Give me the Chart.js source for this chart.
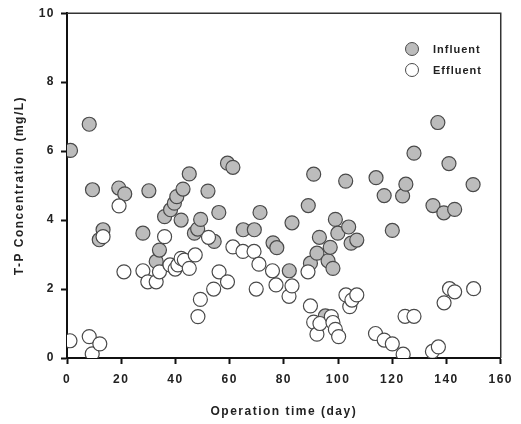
<!DOCTYPE html>
<html>
<head>
<meta charset="utf-8">
<script src="https://cdn.jsdelivr.net/npm/chart.js@4"></script>
<style>
  html, body { margin: 0; padding: 0; background: #fff; }
  #wrap { position: relative; width: 521px; height: 424px; }
  #legend { position: absolute; left: 405px; top: 38px; font: bold 11px "Liberation Sans", Arial, sans-serif; letter-spacing: 1px; color: #222; }
  #legend .row { display: flex; align-items: center; height: 21px; }
  #legend .dot { width: 14px; height: 14px; border-radius: 50%; box-sizing: border-box; border: 1.2px solid #4a4a4a; margin-right: 14px; }
</style>
</head>
<body>
<div id="wrap">
  <canvas id="chart" width="521" height="424"></canvas>
  <div id="legend"></div>
</div>
<script>
// T-P influent / effluent (day, mg/L)
const influentDays = [1.3, 8.2, 9.4, 11.9, 13.3, 19.1, 21.3, 28, 30.2, 32.9, 34.1, 36, 38.2, 39.6, 40.5, 42.1, 42.8, 45.1,
    47, 48.2, 49.3, 52, 54.3, 56, 59.2, 61.2, 65, 69.1, 71.2, 76, 77.4, 82, 83, 89, 89.8, 91, 92.2, 93.1, 95.3, 96.3,
    97.1, 98.1, 99, 99.9, 102.8, 103.9, 104.8, 106.9, 114, 117, 120, 123.8, 125, 128, 135, 136.8, 139, 140.9, 143, 149.8];
const influentValues = [6.02, 6.78, 4.88, 3.43, 3.72, 4.93, 4.76, 3.62, 4.85, 2.8, 3.13, 4.1, 4.3, 4.49, 4.68, 4.0, 4.9, 5.34,
    3.62, 3.74, 4.02, 4.84, 3.38, 4.22, 5.65, 5.53, 3.72, 3.72, 4.22, 3.34, 3.2, 2.53, 3.92, 4.42, 2.75, 5.33, 3.04, 3.5, 1.22, 2.82,
    3.21, 2.6, 4.02, 3.62, 5.13, 3.8, 3.33, 3.42, 5.23, 4.71, 3.7, 4.7, 5.04, 5.94, 4.42, 6.83, 4.21, 5.64, 4.31, 5.03];

const effluentDays = [1.1, 8.2, 9.3, 12.1, 13.3, 19.2, 21, 28, 29.8, 32.9, 34.1, 36, 38, 39.9, 40.9, 42.1, 43.3, 45.1, 47.3,
    48.3, 49.2, 52.2, 54.1, 56.1, 59.2, 61.2, 64.9, 69, 70.8, 69.8, 75.8, 77.1, 81.9, 83, 88.9, 89.8, 91, 92.2, 93.3,
    97.5, 98.1, 99, 100.2, 102.9, 104.3, 105.1, 106.9, 113.8, 117, 120, 124, 124.7, 128, 134.8, 137, 139.1, 141.1, 143, 150];
const effluentValues = [0.5, 0.62, 0.12, 0.41, 3.52, 4.41, 2.5, 2.53, 2.21, 2.21, 2.5, 3.52, 2.7, 2.58, 2.7, 2.89, 2.84, 2.6, 2.99,
    1.2, 1.7, 3.5, 2.0, 2.5, 2.21, 3.22, 3.09, 3.09, 2.72, 2.0, 2.53, 2.12, 1.79, 2.09, 2.5, 1.51, 1.04, 0.69, 1.0,
    1.2, 1.03, 0.83, 0.62, 1.83, 1.49, 1.68, 1.83, 0.71, 0.52, 0.41, 0.11, 1.21, 1.21, 0.19, 0.32, 1.6, 2.01, 1.92, 2.01];

const xTicks = [0, 20, 40, 60, 80, 100, 120, 140, 160];
const yTicks = [0, 2, 4, 6, 8, 10];

const seriesNames = ['Influent', 'Effluent'];
const seriesFill = ['#bcbcbc', '#ffffff'];

function toPoints(days, values) {
    return days.map((d, i) => ({ x: d, y: values[i] }));
}

const font = 'Liberation Sans, Arial, sans-serif';

// canvas letter spacing to mimic the spaced-out labels of the original
const spacing = {
    id: 'spacing',
    beforeUpdate(chart) { chart.ctx.letterSpacing = '1.5px'; },
    beforeDraw(chart) { chart.ctx.letterSpacing = '1.5px'; }
};

// thin frame on top and right of the plot area
const frame = {
    id: 'frame',
    afterDraw(chart) {
        const a = chart.chartArea;
        const ctx = chart.ctx;
        ctx.save();
        ctx.strokeStyle = '#333';
        ctx.lineWidth = 1.5;
        ctx.beginPath();
        ctx.moveTo(a.left, a.top);
        ctx.lineTo(a.right, a.top);
        ctx.lineTo(a.right, a.bottom);
        ctx.stroke();
        ctx.restore();
    }
};

const ctx = document.getElementById('chart').getContext('2d');
const chart = new Chart(ctx, {
    type: 'scatter',
    data: {
        datasets: [
            {
                label: seriesNames[0],
                data: toPoints(influentDays, influentValues),
                backgroundColor: seriesFill[0],
                borderColor: '#4a4a4a',
                borderWidth: 1.2,
                pointRadius: 7,
                order: 1
            },
            {
                label: seriesNames[1],
                data: toPoints(effluentDays, effluentValues),
                backgroundColor: seriesFill[1],
                borderColor: '#4a4a4a',
                borderWidth: 1.2,
                pointRadius: 7,
                order: 0
            }
        ]
    },
    options: {
        responsive: false,
        animation: false,
        layout: { padding: { left: 4, top: 13, right: 18, bottom: 4 } },
        plugins: {
            legend: { display: false },
            tooltip: { enabled: false }
        },
        scales: {
            x: {
                type: 'linear',
                min: 0,
                max: 160,
                afterBuildTicks(s) { s.ticks = xTicks.map(v => ({ value: v })); },
                afterFit(s) { s.height = 62; },
                grid: { drawOnChartArea: false, tickLength: 6, tickWidth: 2, color: '#111' },
                border: { color: '#111', width: 2 },
                ticks: { color: '#222', padding: 8, maxRotation: 0, font: { family: font, size: 12, weight: 'bold' } },
                title: { display: true, text: 'Operation time (day)', color: '#222', padding: { top: 0, bottom: 1 },
                    font: { family: font, size: 12, weight: 'bold' } }
            },
            y: {
                type: 'linear',
                min: 0,
                max: 10,
                afterBuildTicks(s) { s.ticks = yTicks.map(v => ({ value: v })); },
                afterFit(s) { s.width = 63; },
                grid: { drawOnChartArea: false, tickLength: 6, tickWidth: 2, color: '#111' },
                border: { color: '#111', width: 2 },
                ticks: { color: '#222', padding: 6, font: { family: font, size: 12, weight: 'bold' } },
                title: { display: true, text: 'T-P Concentration (mg/L)', color: '#222', padding: { top: 8, bottom: 0 },
                    font: { family: font, size: 12, weight: 'bold' } }
            }
        }
    },
    plugins: [spacing, frame]
});

// legend inside the plot, upper right
const legend = document.getElementById('legend');
chart.data.datasets.forEach(ds => {
    const row = document.createElement('div');
    row.className = 'row';
    const dot = document.createElement('span');
    dot.className = 'dot';
    dot.style.background = ds.backgroundColor;
    const label = document.createElement('span');
    label.textContent = ds.label;
    row.appendChild(dot);
    row.appendChild(label);
    legend.appendChild(row);
});
</script>
</body>
</html>
